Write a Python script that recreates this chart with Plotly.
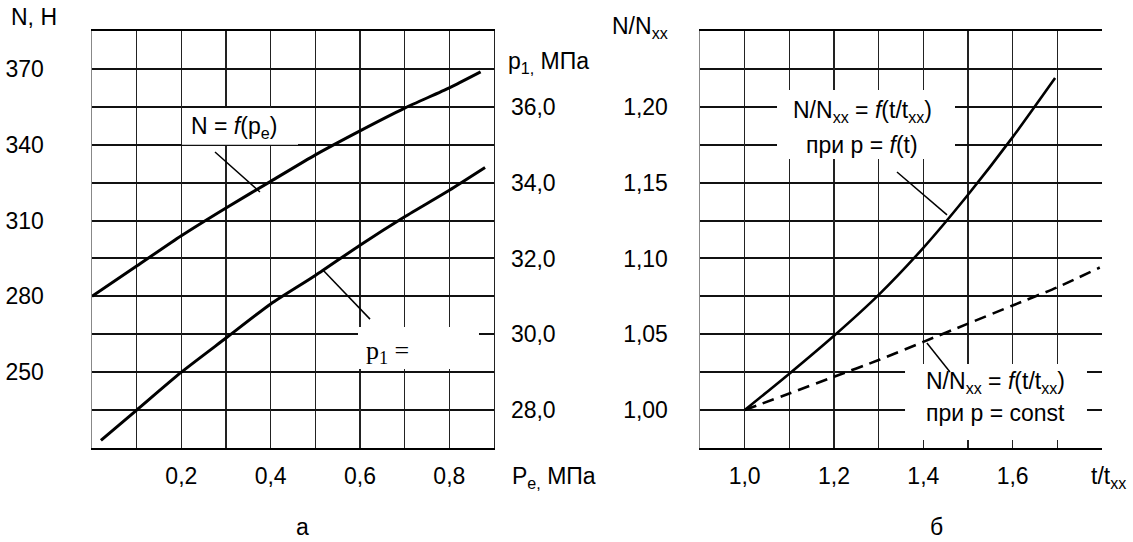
import plotly.graph_objects as go

W, H = 1133, 542

# ---- data: panel а ----
pe_N = [0.0, 0.1, 0.2, 0.3, 0.4, 0.5, 0.6, 0.7, 0.8, 0.87]
N_vals = [280, 292, 304, 315, 325.5, 336, 345.5, 354.5, 362.5, 368.8]
pe_p1 = [0.02, 0.1, 0.2, 0.3, 0.4, 0.5, 0.6, 0.7, 0.8, 0.88]
p1_vals = [27.2, 28.0, 29.0, 29.9, 30.8, 31.55, 32.35, 33.1, 33.8, 34.4]

# ---- data: panel б ----
t_solid = [1.0, 1.1, 1.2, 1.3, 1.4, 1.5, 1.6, 1.695]
n_solid = [1.0, 1.024, 1.049, 1.076, 1.107, 1.142, 1.180, 1.219]
t_dash = [1.0, 1.1, 1.2, 1.3, 1.4, 1.5, 1.6, 1.7, 1.795]
n_dash = [1.0, 1.011, 1.022, 1.033, 1.045, 1.057, 1.069, 1.081, 1.094]

# ---- ticks / grid ----
xa_grid = [round(i * 0.1, 1) for i in range(10)]
xa_vals = [0.2, 0.4, 0.6, 0.8]
xa_text = ["0,2", "0,4", "0,6", "0,8"]
ya_grid = list(range(220, 386, 15))
ya_vals = [250, 280, 310, 340, 370]
ya_text = ["250", "280", "310", "340", "370"]
y2_vals = [28, 30, 32, 34, 36]
y2_text = ["28,0", "30,0", "32,0", "34,0", "36,0"]
xb_grid = [round(0.9 + i * 0.1, 1) for i in range(10)]
xb_vals = [1.0, 1.2, 1.4, 1.6]
xb_text = ["1,0", "1,2", "1,4", "1,6"]
yb_grid = [round(0.975 + i * 0.025, 3) for i in range(12)]
yb_vals = [1.0, 1.05, 1.1, 1.15, 1.2]
yb_text = ["1,00", "1,05", "1,10", "1,15", "1,20"]

FONT = "Liberation Sans, Arial, sans-serif"
FS = 23

def px(xp):
    return xp / W

def py(yp):
    return 1 - yp / H

fig = go.Figure()
fig.add_trace(go.Scatter(x=pe_N, y=N_vals, mode="lines",
                         line=dict(color="black", width=3, shape="spline", smoothing=0.6),
                         xaxis="x", yaxis="y", showlegend=False, hoverinfo="skip"))
fig.add_trace(go.Scatter(x=pe_p1, y=p1_vals, mode="lines",
                         line=dict(color="black", width=3, shape="spline", smoothing=0.6),
                         xaxis="x", yaxis="y2", showlegend=False, hoverinfo="skip"))
fig.add_trace(go.Scatter(x=t_solid, y=n_solid, mode="lines",
                         line=dict(color="black", width=2.6, shape="spline", smoothing=0.6),
                         xaxis="x2", yaxis="y3", showlegend=False, hoverinfo="skip"))
fig.add_trace(go.Scatter(x=t_dash, y=n_dash, mode="lines",
                         line=dict(color="black", width=2.6, dash="12px,7px", shape="spline", smoothing=0.6),
                         xaxis="x2", yaxis="y3", showlegend=False, hoverinfo="skip"))

ydom = [py(448), py(31)]
XG = dict(gridcolor="#222", gridwidth=1.3)
YG = dict(gridcolor="#111", gridwidth=2)
common_x = dict(showgrid=True, **XG, showline=True, mirror=True,
                linecolor="black", linewidth=2, ticks="", zeroline=False,
                tickfont=dict(family=FONT, size=FS, color="black"), ticklabelstandoff=6)
common_y = dict(showgrid=True, **YG, showline=True, linecolor="#888",
                linewidth=1.5, ticks="", zeroline=False,
                tickfont=dict(family=FONT, size=FS, color="black"))

fig.update_layout(
    width=W, height=H, margin=dict(l=0, r=0, t=0, b=0),
    paper_bgcolor="white", plot_bgcolor="white",
    xaxis=dict(domain=[px(92), px(494)], range=[0, 0.9], tickvals=xa_vals, ticktext=xa_text,
               minor=dict(tickvals=xa_grid, showgrid=True, ticks="", **XG),
               anchor="y", **common_x),
    yaxis=dict(domain=ydom, range=[220, 385], tickvals=ya_vals, ticktext=ya_text,
               minor=dict(tickvals=ya_grid, showgrid=True, ticks="", **YG),
               anchor="x", ticklabelstandoff=42, **common_y),
    yaxis2=dict(overlaying="y", side="right", anchor="x", range=[27, 38], tickvals=y2_vals,
                ticktext=y2_text, showgrid=False, showline=True, linecolor="#222", linewidth=1.3,
                ticks="", zeroline=False, ticklabelstandoff=11,
                tickfont=dict(family=FONT, size=FS, color="black")),
    xaxis2=dict(domain=[px(700), px(1102)], range=[0.9, 1.8], tickvals=xb_vals, ticktext=xb_text,
                minor=dict(tickvals=xb_grid, showgrid=True, ticks="", **XG),
                anchor="y3", **common_x),
    yaxis3=dict(domain=ydom, range=[0.975, 1.25], tickvals=yb_vals, ticktext=yb_text,
                minor=dict(tickvals=yb_grid, showgrid=True, ticks="", **YG),
                anchor="x2", ticklabelstandoff=26, **common_y),
    yaxis4=dict(overlaying="y3", side="right", anchor="x2", range=[0.975, 1.25],
                showgrid=False, showline=True, linecolor="#333", linewidth=1.3,
                showticklabels=False, ticks="", zeroline=False),
)

# white label boxes (masking grid)
boxes = [
    ("x", "y", 0.2015, 0.4612, 340.0, 354.5),
    ("x", "y", 0.5955, 0.8664, 251.3, 267.9),
    ("x2", "y3", 1.0724, 1.4709, 1.1656, 1.2111),
    ("x2", "y3", 1.359, 1.7664, 0.9803, 1.0304),
]
for xr, yr, x0, x1, y0, y1 in boxes:
    fig.add_shape(type="rect", xref=xr, yref=yr, x0=x0, x1=x1, y0=y0, y1=y1,
                  fillcolor="white", line=dict(width=0), layer="between")

# leader lines
leaders = [
    ("x", "y", 0.2754, 337.1, 0.376, 321.3),
    ("x", "y", 0.517, 290.4, 0.6224, 271.0),
    ("x2", "y3", 1.341, 1.157, 1.453, 1.1287),
    ("x2", "y3", 1.408, 1.0443, 1.4597, 1.0251),
]
for xr, yr, x0, y0, x1, y1 in leaders:
    fig.add_shape(type="line", xref=xr, yref=yr, x0=x0, y0=y0, x1=x1, y1=y1,
                  line=dict(color="black", width=1.5), layer="above")

def txt(text, x, y, xref="paper", yref="paper", size=FS, family=FONT, xanchor="center"):
    fig.add_annotation(text=text, x=x, y=y, xref=xref, yref=yref, showarrow=False,
                       xanchor=xanchor, yanchor="middle",
                       font=dict(family=family, size=size, color="black"))

# axis titles
txt("N, H", px(9), py(17), xanchor="left")
txt("p<sub>1,</sub> МПа", px(506), py(62), xanchor="left")
txt("P<sub>e,</sub> МПа", px(510), py(477), xanchor="left")
txt("а", px(302), py(527))
txt("N/N<sub>xx</sub>", px(610), py(28), xanchor="left")
txt("t/t<sub>xx</sub>", px(1089), py(477), xanchor="left")
txt("б", px(937), py(527))

# curve labels
txt("N = <i>f</i>(p<sub>e</sub>)", 0.319, 347.0, "x", "y")
txt("p<sub>1</sub> =", 0.6615, 258.0, "x", "y", size=26, family="Liberation Serif, Times New Roman, serif")
txt("N/N<sub>xx</sub> = <i>f</i>(t/t<sub>xx</sub>)", 1.2627, 1.1972, "x2", "y3")
txt("при p = <i>f</i>(t)", 1.2627, 1.1748, "x2", "y3")
txt("N/N<sub>xx</sub> = <i>f</i>(t/t<sub>xx</sub>)", 1.5626, 1.0185, "x2", "y3")
txt("при p = const", 1.5626, 0.9981, "x2", "y3")

fig.write_html("out.html", config={"displayModeBar": False, "staticPlot": True},
               post_script="document.body.style.margin='0';document.body.style.overflow='hidden';")
